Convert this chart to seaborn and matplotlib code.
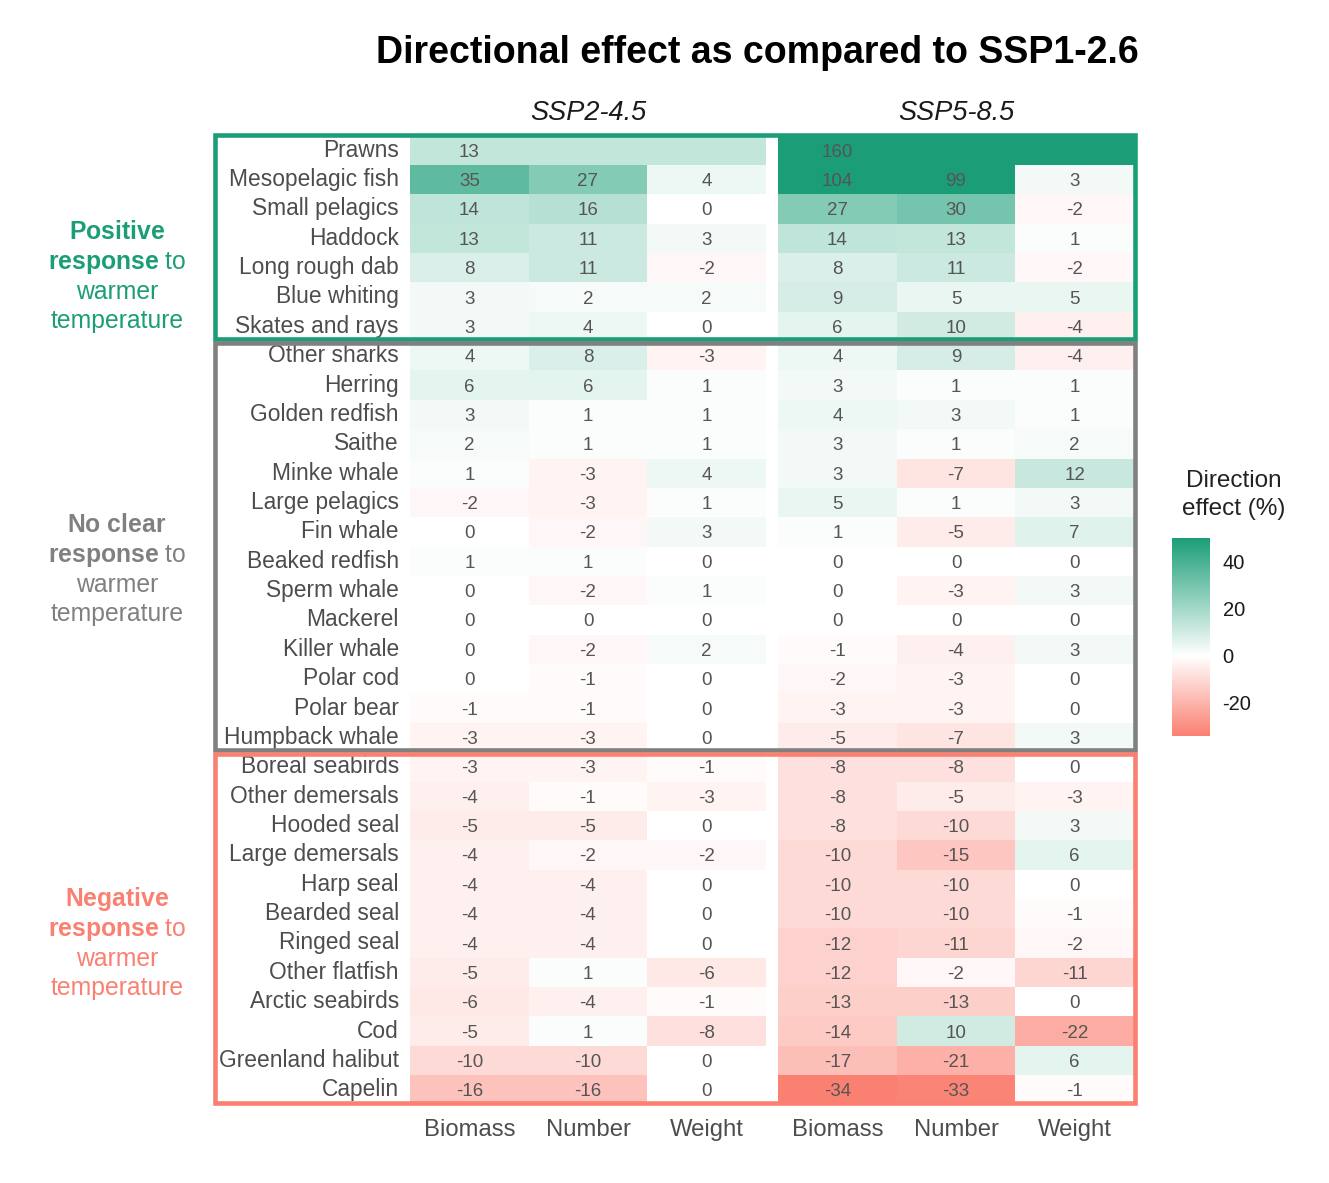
import numpy as np
import pandas as pd
import matplotlib
matplotlib.use("Agg")
import matplotlib.pyplot as plt
import seaborn as sns
from matplotlib.colors import LinearSegmentedColormap
from matplotlib.patches import Rectangle
import matplotlib.transforms as mtransforms

# ---------------- data ----------------
species = ["Prawns", "Mesopelagic fish", "Small pelagics", "Haddock", "Long rough dab",
           "Blue whiting", "Skates and rays", "Other sharks", "Herring", "Golden redfish",
           "Saithe", "Minke whale", "Large pelagics", "Fin whale", "Beaked redfish",
           "Sperm whale", "Mackerel", "Killer whale", "Polar cod", "Polar bear",
           "Humpback whale", "Boreal seabirds", "Other demersals", "Hooded seal",
           "Large demersals", "Harp seal", "Bearded seal", "Ringed seal", "Other flatfish",
           "Arctic seabirds", "Cod", "Greenland halibut", "Capelin"]
group_names = ["Positive", "No clear", "Negative"]
group_sizes = [7, 14, 12]
metrics = ["Biomass", "Number", "Weight"]
scenarios = ["SSP2-4.5", "SSP5-8.5"]

ssp245_biomass = [13, 35, 14, 13, 8, 3, 3, 4, 6, 3, 2, 1, -2, 0, 1, 0, 0, 0, 0, -1, -3,
                  -3, -4, -5, -4, -4, -4, -4, -5, -6, -5, -10, -16]
ssp245_number = [None, 27, 16, 11, 11, 2, 4, 8, 6, 1, 1, -3, -3, -2, 1, -2, 0, -2, -1, -1, -3,
                 -3, -1, -5, -2, -4, -4, -4, 1, -4, 1, -10, -16]
ssp245_weight = [None, 4, 0, 3, -2, 2, 0, -3, 1, 1, 1, 4, 1, 3, 0, 1, 0, 2, 0, 0, 0,
                 -1, -3, 0, -2, 0, 0, 0, -6, -1, -8, 0, 0]
ssp585_biomass = [160, 104, 27, 14, 8, 9, 6, 4, 3, 4, 3, 3, 5, 1, 0, 0, 0, -1, -2, -3, -5,
                  -8, -8, -8, -10, -10, -10, -12, -12, -13, -14, -17, -34]
ssp585_number = [None, 99, 30, 13, 11, 5, 10, 9, 1, 3, 1, -7, 1, -5, 0, -3, 0, -4, -3, -3, -7,
                 -8, -5, -10, -15, -10, -10, -11, -2, -13, 10, -21, -33]
ssp585_weight = [None, 3, -2, 1, -2, 5, -4, -4, 1, 1, 2, 12, 3, 7, 0, 3, 0, 3, 0, 0, 3,
                 0, -3, 3, 6, 0, -1, -2, -11, 0, -22, 6, -1]

color_limits = [-34, 50]
col_low, col_mid, col_high = "#FA8072", "#FFFFFF", "#1B9E77"
group_colors = {"Positive": "#1B9E77", "No clear": "#808080", "Negative": "#FA8072"}

# ---------------- style ----------------
sns.set_style("white")
plt.rcParams["font.family"] = ["Liberation Sans", "DejaVu Sans"]
plt.rcParams["axes.unicode_minus"] = False
plt.rcParams["mathtext.fontset"] = "custom"
plt.rcParams["mathtext.rm"] = "Liberation Sans"
plt.rcParams["mathtext.bf"] = "Liberation Sans:bold"
plt.rcParams["mathtext.it"] = "Liberation Sans:italic"

W, H = 1329, 1183
fig = plt.figure(figsize=(W / 100, H / 100), dpi=100)
fig.patch.set_facecolor("white")


def fx(x):
    return x / W


def fy(y):
    return 1 - y / H


top_px, bot_px = 135.5, 1104.5
ax1 = fig.add_axes([fx(410), fy(bot_px), (766 - 410) / W, (bot_px - top_px) / H])
ax2 = fig.add_axes([fx(778), fy(bot_px), (1134 - 778) / W, (bot_px - top_px) / H])

vmin, vmax = color_limits
zero_pos = (0 - vmin) / (vmax - vmin)
cmap = LinearSegmentedColormap.from_list("direction", [(0, col_low), (zero_pos, col_mid), (1, col_high)])

frames = {
    "SSP2-4.5": pd.DataFrame({"Biomass": ssp245_biomass, "Number": ssp245_number,
                              "Weight": ssp245_weight}, index=species, dtype=float),
    "SSP5-8.5": pd.DataFrame({"Biomass": ssp585_biomass, "Number": ssp585_number,
                              "Weight": ssp585_weight}, index=species, dtype=float),
}

for ax, scen in zip([ax1, ax2], scenarios):
    df = frames[scen]
    # species with only one metric: the tile spans the whole row
    disp = df.apply(lambda r: r.fillna(r["Biomass"]), axis=1)
    annot = df.apply(lambda col: col.map(lambda v: "" if pd.isna(v) else f"{v:.0f}")).values
    sns.heatmap(disp, ax=ax, cmap=cmap, vmin=vmin, vmax=vmax, annot=annot, fmt="",
                cbar=False, linewidths=0, xticklabels=metrics, yticklabels=species,
                annot_kws=dict(color="#555555", fontsize=13.5, va="center_baseline"))
    ax.set_xlabel("")
    ax.set_ylabel("")
    ax.set_xticklabels(metrics, rotation=0)
    ax.tick_params(axis="x", length=0, pad=10.5, labelsize=17.2, labelcolor="#4D4D4D")
    x0, x1 = ax.get_position().x0, ax.get_position().x1
    fig.text((x0 + x1) / 2, fy(120), scen, ha="center", va="baseline", fontsize=19.5,
             fontstyle="italic", color="#1A1A1A")

ax1.set_yticklabels(species, rotation=0)
ax1.tick_params(axis="y", length=0, pad=8, labelsize=16.4, labelcolor="#4D4D4D")
ax2.tick_params(axis="y", left=False, labelleft=False)

# title
fig.text(fx(757), fy(63), "Directional effect as compared to SSP1-2.6", ha="center",
         va="baseline", fontsize=27, fontweight="bold", color="black")

# group boxes
blend = mtransforms.blended_transform_factory(fig.transFigure, ax1.transData)
start = 0
for gi, (g, n) in enumerate(zip(group_names, group_sizes)):
    end = start + n
    top_in = -0.03 if gi == 0 else 0.07
    bot_in = 0.05 if gi == len(group_names) - 1 else 0.08
    rect = Rectangle((fx(215), start + top_in), fx(1135) - fx(215), (end - start) - top_in - bot_in,
                     transform=blend, fill=False, edgecolor=group_colors[g], linewidth=3.3,
                     clip_on=False, zorder=10)
    fig.add_artist(rect)
    start = end

# group labels
label_lines = {
    "Positive": [r"$\mathbf{Positive}$", r"$\mathbf{response}$ to", "warmer", "temperature"],
    "No clear": [r"$\mathbf{No\ clear}$", r"$\mathbf{response}$ to", "warmer", "temperature"],
    "Negative": [r"$\mathbf{Negative}$", r"$\mathbf{response}$ to", "warmer", "temperature"],
}
label_first_baseline = {"Positive": 239, "No clear": 532, "Negative": 906}
for g in group_names:
    for i, line in enumerate(label_lines[g]):
        fig.text(fx(117), fy(label_first_baseline[g] + 29.8 * i), line, ha="center",
                 va="baseline", fontsize=17.8, color=group_colors[g])

# colorbar
cax = fig.add_axes([fx(1172), fy(736), 38 / W, (736 - 538) / H])
cb = fig.colorbar(ax2.collections[0], cax=cax)
cb.outline.set_visible(False)
cb.set_ticks([-20, 0, 20, 40])
cax.tick_params(which="major", direction="in", length=5.5, width=0.9, colors="white",
                left=True, right=True, labelleft=False, labelright=True,
                labelsize=14.5, labelcolor="#1A1A1A", pad=9)
cax.minorticks_off()
fig.text(fx(1233.5), fy(487), "Direction", ha="center", va="baseline", fontsize=17.5, color="#222222")
fig.text(fx(1233.5), fy(515), "effect (%)", ha="center", va="baseline", fontsize=17.5, color="#222222")

fig.savefig("out.png", dpi=100, facecolor="white")
